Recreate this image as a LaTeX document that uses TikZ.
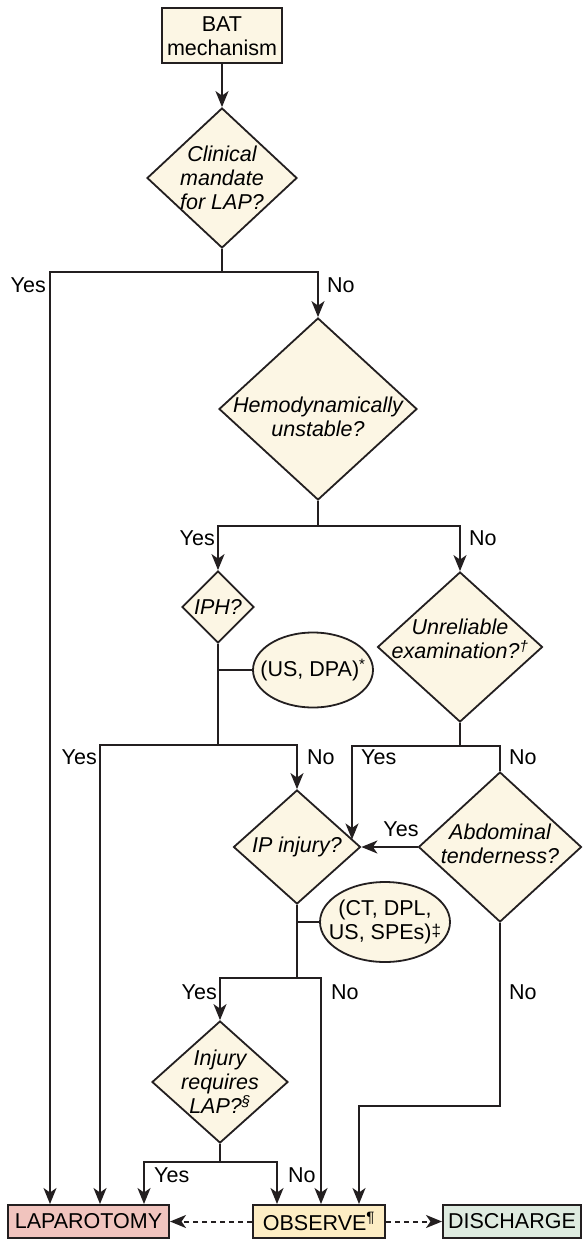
\documentclass[tikz,border=0pt]{standalone}
\usepackage{fontspec}
\setmainfont{Liberation Sans}
\usetikzlibrary{arrows.meta,shapes.geometric,calc}
\definecolor{Ink}{RGB}{35,31,32}
\definecolor{Cream}{RGB}{252,246,228}
\definecolor{LapRed}{RGB}{241,196,190}
\definecolor{ObsYellow}{RGB}{253,237,196}
\definecolor{DisGreen}{RGB}{222,235,224}
\tikzset{
  base/.style={font=\fontsize{21.5}{24}\selectfont},
  box/.style={base,rectangle,draw=Ink,line width=2pt,fill=Cream,inner sep=0pt,align=center},
  decision/.style={diamond,draw=Ink,line width=1.8pt,fill=Cream,inner sep=0pt},
  qtext/.style={font=\fontsize{21.5}{24}\selectfont\itshape,align=center,inner sep=0pt},
  test/.style={ellipse,draw=Ink,line width=1.8pt,fill=Cream,inner sep=0pt},
  ans/.style={base,inner sep=0pt},
  link/.style={draw=Ink,line width=1.8pt},
  flow/.style={-{Stealth[length=16pt,width=13pt,inset=4.5pt]},draw=Ink,line width=1.8pt},
  dflow/.style={flow,line width=2pt,dash pattern=on 5pt off 4pt}
}

\begin{document}
\begin{tikzpicture}[x=1pt,y=-1pt]
\useasboundingbox (0,0) rectangle (582,1239);

% boxes and decisions
\node[box,minimum width=120pt,minimum height=55pt] (bat) at (222,36) {BAT\\mechanism};
\node[decision,minimum width=150pt,minimum height=140pt,
  label={[qtext]center:{Clinical\\mandate\\for LAP?}}] (clin) at (222,178) {};
\node[decision,minimum width=198pt,minimum height=182pt,
  label={[qtext,yshift=-8pt]center:{Hemodynamically\\unstable?}}] (hemo) at (318,409) {};
\node[decision,minimum width=72pt,minimum height=72pt,
  label={[qtext]center:{IPH?}}] (iph) at (218,607) {};
\node[decision,minimum width=165pt,minimum height=150pt,
  label={[qtext,yshift=8pt]center:{Unreliable\\examination?\textsuperscript{†}}}] (unrel) at (460,647) {};
\node[decision,minimum width=127pt,minimum height=114pt,
  label={[qtext]center:{IP injury?}}] (ipinj) at (297,847) {};
\node[decision,minimum width=163pt,minimum height=150pt,
  label={[qtext,yshift=3pt]center:{Abdominal\\tenderness?}}] (abd) at (500,847) {};
\node[decision,minimum width=136pt,minimum height=122pt,
  label={[qtext]center:{Injury\\requires\\LAP?\textsuperscript{§}}}] (injreq) at (220,1082) {};
\node[test,minimum width=120pt,minimum height=75pt,
  label={[ans]center:{(US, DPA)\textsuperscript{*}}}] (usdpa) at (313,670) {};
\node[test,minimum width=130pt,minimum height=80pt,
  label={[ans,align=center]center:{(CT, DPL,\\US, SPEs)\raisebox{3pt}{\fontsize{17}{17}\selectfont ‡}}}] (ctdpl) at (385,922) {};
\node[box,fill=LapRed,minimum width=161pt,minimum height=33pt] (lap) at (88.5,1221.5) {LAPAROTOMY};
\node[box,fill=ObsYellow,minimum width=132pt,minimum height=33pt] (obs) at (319,1221.5) {OBSERVE\textsuperscript{¶}};
\node[box,fill=DisGreen,minimum width=138pt,minimum height=33pt] (dis) at (512,1221.5) {DISCHARGE};

% junctions
\coordinate (j1) at (222,272);  \coordinate (j1y) at (50,272);  \coordinate (j1n) at (318,272);
\coordinate (j2) at (318,526);  \coordinate (j2y) at (218,526); \coordinate (j2n) at (460,526);
\coordinate (j3) at (218,745);  \coordinate (j3y) at (100,745); \coordinate (j3n) at (297,745);
\coordinate (j4) at (460,746);  \coordinate (j4y) at (352,746); \coordinate (j4n) at (500,746);
\coordinate (j5) at (297,978);  \coordinate (j5y) at (220,978); \coordinate (j5n) at (321,978);
\coordinate (j6) at (500,1106); \coordinate (j6o) at (359,1106);
\coordinate (j7) at (220,1162); \coordinate (j7y) at (144,1162); \coordinate (j7n) at (277,1162);
\coordinate (ipinjNE) at ($(ipinj.east)!0.13!(ipinj.north)$);

% connectors
\draw[flow] (bat.south) -- (clin.north);
\draw[link] (clin.south) -- (j1);
\draw[flow] (j1) -- (j1y) -- (j1y |- lap.north);
\draw[flow] (j1) -- (j1n) -- (hemo.north);
\draw[link] (hemo.south) -- (j2);
\draw[flow] (j2) -- (j2y) -- (iph.north);
\draw[flow] (j2) -- (j2n) -- (unrel.north);
\draw[link] (iph.south) -- (j3);
\draw[link] (iph.south |- usdpa.west) -- (usdpa.west);
\draw[flow] (j3) -- (j3y) -- (j3y |- lap.north);
\draw[flow] (j3) -- (j3n) -- (ipinj.north);
\draw[link] (unrel.south) -- (j4);
\draw[flow] (j4) -- (j4y) -- (j4y |- ipinjNE);
\draw[link] (j4) -- (j4n) -- (abd.north);
\draw[flow] (abd.west) -- (ipinj.east);
\draw[link] (ipinj.south) -- (j5);
\draw[link] (ipinj.south |- ctdpl.west) -- (ctdpl.west);
\draw[flow] (j5) -- (j5y) -- (injreq.north);
\draw[flow] (j5) -- (j5n) -- (j5n |- obs.north);
\draw[flow] (abd.south) -- (j6) -- (j6o) -- (j6o |- obs.north);
\draw[link] (injreq.south) -- (j7);
\draw[flow] (j7) -- (j7y) -- (j7y |- lap.north);
\draw[flow] (j7) -- (j7n) -- (j7n |- obs.north);
\draw[dflow] (obs.west) -- (lap.east);
\draw[dflow] (obs.east) -- (dis.west);

% answers
\node[ans,anchor=east] (y1) at (46,285) {Yes};
\node[ans,anchor=west] (n1) at (327,285) {No};
\node[ans,anchor=east] (y2) at (215,538) {Yes};
\node[ans,anchor=west] (n2) at (469,538) {No};
\node[ans,anchor=east] (y3) at (97,757) {Yes};
\node[ans,anchor=west] (n3) at (307,757) {No};
\node[ans,anchor=west] (y4) at (361,757) {Yes};
\node[ans,anchor=west] (n4) at (509,757) {No};
\node[ans] (y5) at (401,829) {Yes};
\node[ans,anchor=east] (y6) at (217,992) {Yes};
\node[ans,anchor=west] (n6) at (331,992) {No};
\node[ans,anchor=west] (n7) at (509,992) {No};
\node[ans,anchor=west] (y8) at (154,1175) {Yes};
\node[ans,anchor=west] (n8) at (288,1175) {No};
\end{tikzpicture}
\end{document}
